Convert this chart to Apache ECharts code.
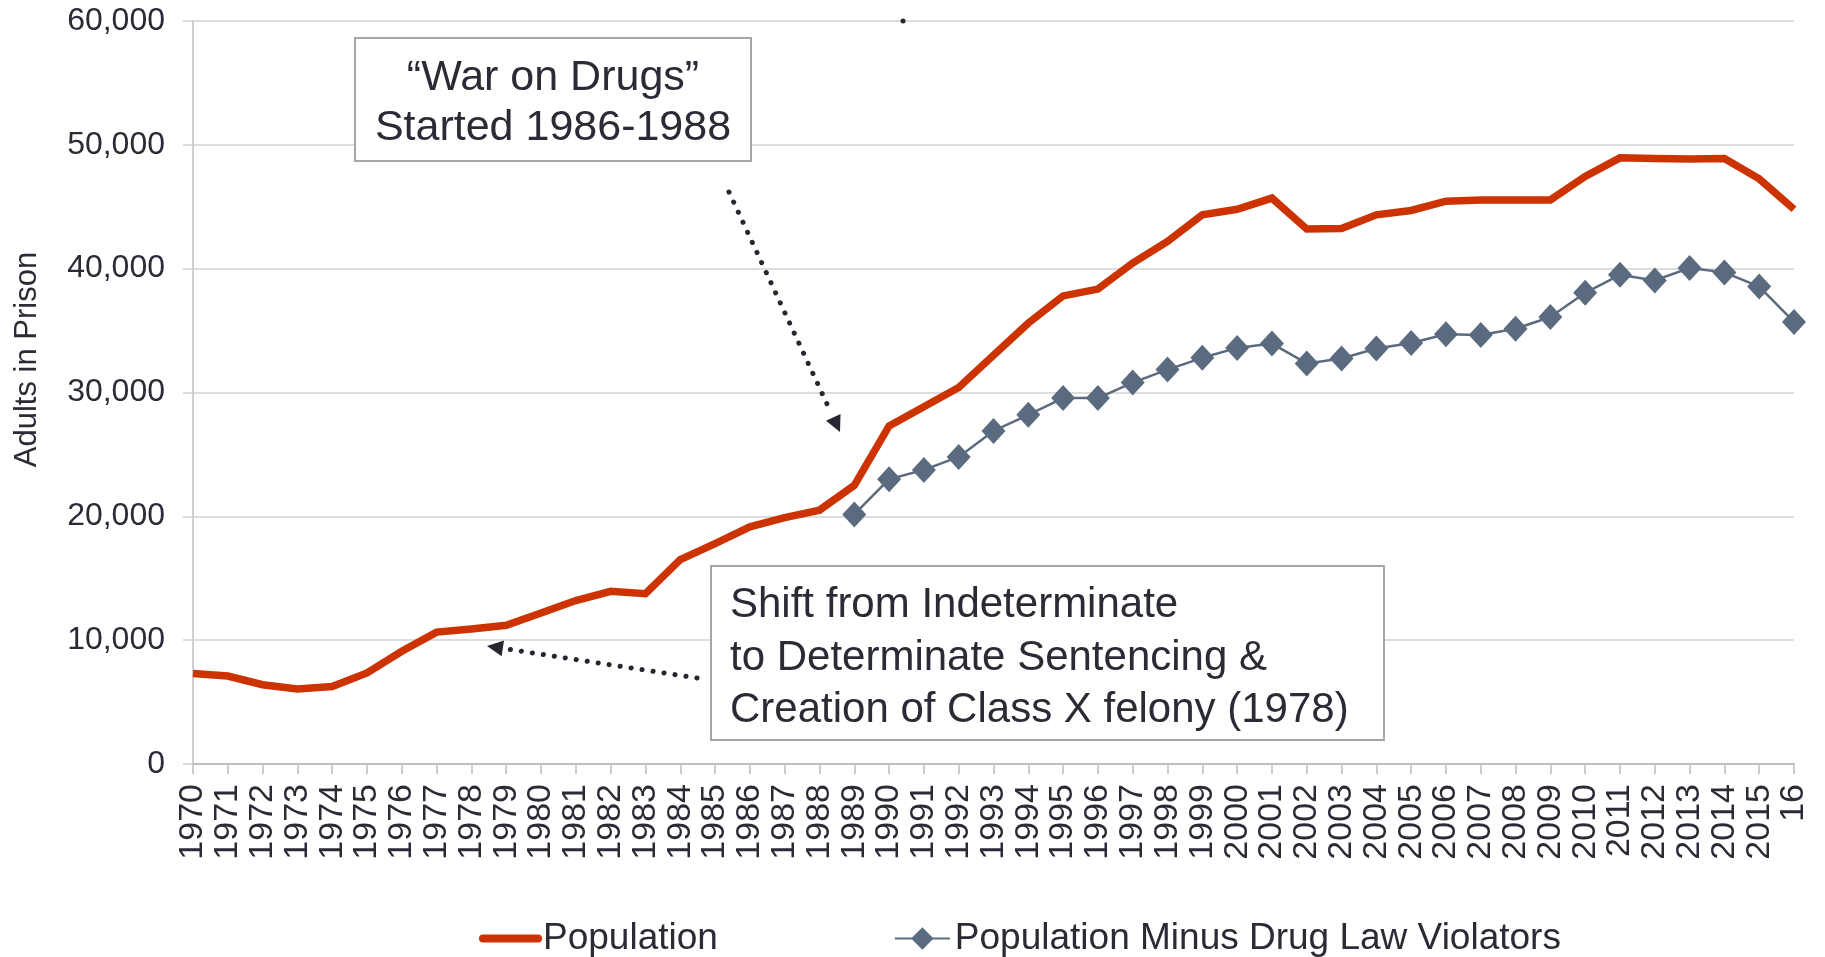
<!DOCTYPE html>
<html>
<head>
<meta charset="utf-8">
<title>Adults in Prison</title>
<script src="https://cdn.jsdelivr.net/npm/echarts@6/dist/echarts.min.js"></script>
<style>
    html, body { margin: 0; padding: 0; background: #fff; }
    #echart1 { width: 1825px; height: 957px; }
</style>
</head>
<body>
<div id="echart1"></div>
<script>
var years = ['1970','1971','1972','1973','1974','1975','1976','1977','1978','1979',
    '1980','1981','1982','1983','1984','1985','1986','1987','1988','1989',
    '1990','1991','1992','1993','1994','1995','1996','1997','1998','1999',
    '2000','2001','2002','2003','2004','2005','2006','2007','2008','2009',
    '2010','2011','2012','2013','2014','2015','16'];

var population = [7300, 7100, 6400, 6050, 6250, 7350, 9100, 10650, 10900, 11200,
    12200, 13200, 13950, 13750, 16500, 17800, 19150, 19900, 20500, 22500,
    27300, 28850, 30400, 33000, 35600, 37800, 38350, 40450, 42200, 44350,
    44800, 45700, 43200, 43250, 44350, 44700, 45450, 45550, 45550, 45550,
    47450, 48950, 48900, 48850, 48900, 47250, 44800];

// no drug-law series before 1989
var minusDrug = [null, null, null, null, null, null, null, null, null, null,
    null, null, null, null, null, null, null, null, null, 20150,
    23000, 23750, 24800, 26900, 28200, 29550, 29550, 30800, 31850, 32800,
    33600, 33950, 32350, 32750, 33550, 34000, 34700, 34650, 35150, 36100,
    38050, 39500, 39050, 40050, 39700, 38550, 35700];

var yTicks = [0, 10000, 20000, 30000, 40000, 50000, 60000];
var seriesNames = ['Population', 'Population Minus Drug Law Violators'];

var fontFamily = '"Liberation Sans", Arial, sans-serif';
var textColor = '#2b2b36';
var gridColor = '#d0d0d0';

function dottedArrow(x1, y1, x2, y2) {
    var dx = x2 - x1, dy = y2 - y1;
    var len = Math.sqrt(dx * dx + dy * dy);
    var ux = dx / len, uy = dy / len;
    var headLen = 16, headHalf = 8;
    var bx = x2 - ux * headLen, by = y2 - uy * headLen;
    return [
        {
            type: 'line', z: 100,
            shape: { x1: x1, y1: y1, x2: bx - ux * 6, y2: by - uy * 6 },
            style: { stroke: '#262630', lineWidth: 5, lineDash: [0.1, 11], lineCap: 'round' }
        },
        {
            type: 'polygon', z: 100,
            shape: { points: [[x2, y2], [bx - uy * headHalf, by + ux * headHalf], [bx + uy * headHalf, by - ux * headHalf]] },
            style: { fill: '#262630' }
        }
    ];
}

function initEchart(domId) {
    var myChart = echarts.init(document.getElementById(domId));
    var graphics = [
        {
            type: 'rect', z: 100,
            shape: { x: 355, y: 38, width: 396, height: 123 },
            style: { fill: '#fff', stroke: '#a6a6a6', lineWidth: 2 }
        },
        {
            type: 'text', z: 101, x: 553, y: 103,
            style: {
                text: '\u201cWar on Drugs\u201d\nStarted 1986-1988',
                font: '43px ' + fontFamily, fill: textColor,
                align: 'center', verticalAlign: 'middle', lineHeight: 50
            }
        },
        {
            type: 'rect', z: 100,
            shape: { x: 711, y: 566, width: 673, height: 174 },
            style: { fill: '#fff', stroke: '#a6a6a6', lineWidth: 2 }
        },
        {
            type: 'text', z: 101, x: 730, y: 658,
            style: {
                text: 'Shift from Indeterminate\nto Determinate Sentencing &\nCreation of Class X felony (1978)',
                font: '42px ' + fontFamily, fill: textColor,
                align: 'left', verticalAlign: 'middle', lineHeight: 52.5
            }
        },
        {
            type: 'circle', z: 100,
            shape: { cx: 903, cy: 21, r: 2.5 },
            style: { fill: '#262630' }
        }
    ];
    graphics = graphics.concat(dottedArrow(729, 192, 840, 432));
    graphics = graphics.concat(dottedArrow(697, 678, 487, 646));

    var option = {
        animation: false,
        backgroundColor: '#fff',
        textStyle: { fontFamily: fontFamily },
        grid: { left: 193, right: 31, top: 21, bottom: 193 },
        legend: {
            left: 474,
            top: 915,
            itemWidth: 55,
            itemHeight: 28,
            itemGap: 176,
            textStyle: { fontSize: 37, color: textColor, fontFamily: fontFamily },
            data: [
                { name: seriesNames[0], lineStyle: { width: 8, cap: 'round' }, itemStyle: { opacity: 0 } },
                { name: seriesNames[1], lineStyle: { width: 2 } }
            ]
        },
        xAxis: [
            {
                type: 'category',
                boundaryGap: false,
                data: years,
                axisLine: { show: true, lineStyle: { color: '#bfbfbf', width: 2 } },
                axisTick: { show: true, length: 10, interval: 0, lineStyle: { color: '#bfbfbf', width: 1.5 } },
                axisLabel: {
                    interval: 0,
                    rotate: 90,
                    margin: 20,
                    fontSize: 34,
                    color: textColor,
                    fontFamily: fontFamily
                },
                splitLine: { show: false }
            }
        ],
        yAxis: [
            {
                type: 'value',
                min: yTicks[0],
                max: yTicks[yTicks.length - 1],
                interval: yTicks[1] - yTicks[0],
                name: 'Adults in Prison',
                nameLocation: 'middle',
                nameGap: 150,
                nameTextStyle: { fontSize: 31, color: textColor, fontFamily: fontFamily, padding: [0, 0, 0, 66] },
                axisLine: { show: true, lineStyle: { color: '#cfcfcf', width: 2 } },
                axisTick: { show: true, length: 10, lineStyle: { color: gridColor, width: 1.5 } },
                axisLabel: {
                    margin: 28,
                    fontSize: 32,
                    color: textColor,
                    fontFamily: fontFamily,
                    formatter: function (v) { return v.toLocaleString('en-US'); }
                },
                splitLine: { show: true, lineStyle: { color: gridColor, width: 1.5 } }
            }
        ],
        series: [
            {
                name: seriesNames[0],
                type: 'line',
                data: population,
                symbol: 'none',
                lineStyle: { color: '#cc3300', width: 7.5, join: 'miter' },
                itemStyle: { color: '#cc3300' },
                z: 3
            },
            {
                name: seriesNames[1],
                type: 'line',
                data: minusDrug,
                symbol: 'diamond',
                symbolSize: [24, 26],
                lineStyle: { color: '#5b6b7f', width: 2.5 },
                itemStyle: { color: '#5b6b7f' },
                z: 4
            }
        ],
        graphic: graphics
    };
    myChart.setOption(option);
}
initEchart('echart1');
</script>
</body>
</html>
